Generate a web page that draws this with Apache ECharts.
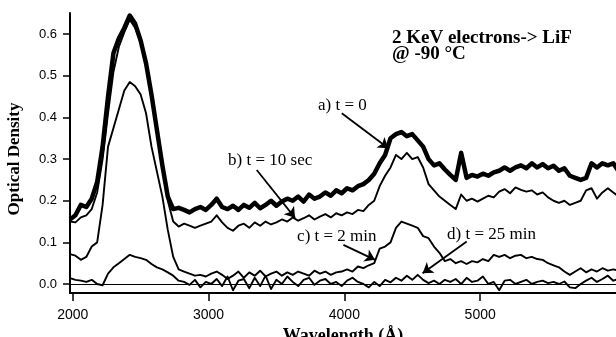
<!DOCTYPE html>
<html>
<head>
<meta charset="utf-8">
<title>Optical density, 2 KeV electrons on LiF</title>
<script src="https://cdn.jsdelivr.net/npm/echarts@6/dist/echarts.min.js"></script>
<style>
    html, body { margin: 0; padding: 0; background: #fff; }
    #chart { width: 616px; height: 337px; }
</style>
</head>
<body>
<div id="chart"></div>
<script>
// Wavelength grid (Å)
const wavelength = [
    1980, 2020, 2060, 2100, 2140, 2180, 2220, 2260, 2300, 2340, 2380, 2420, 2460, 2500, 2540, 2580, 2620, 2660, 2700, 2740,
    2780, 2820, 2860, 2900, 2940, 2980, 3020, 3060, 3100, 3140, 3180, 3220, 3260, 3300, 3340, 3380, 3420, 3460, 3500, 3540,
    3580, 3620, 3660, 3700, 3740, 3780, 3820, 3860, 3900, 3940, 3980, 4020, 4060, 4100, 4140, 4180, 4220, 4260, 4300, 4340,
    4380, 4420, 4460, 4500, 4540, 4580, 4620, 4660, 4700, 4740, 4780, 4820, 4860, 4900, 4940, 4980, 5020, 5060, 5100, 5140,
    5180, 5220, 5260, 5300, 5340, 5380, 5420, 5460, 5500, 5540, 5580, 5620, 5660, 5700, 5740, 5780, 5820, 5860, 5900, 5940,
    5980, 6020
];

// a) t = 0
const odT0 = [
    0.155, 0.165, 0.19, 0.185, 0.205, 0.245, 0.33, 0.45, 0.555, 0.59, 0.615, 0.645, 0.625, 0.585, 0.53, 0.455, 0.37, 0.285, 0.21, 0.18,
    0.183, 0.178, 0.172, 0.18, 0.185, 0.178, 0.19, 0.205, 0.185, 0.18, 0.188, 0.178, 0.19, 0.183, 0.195, 0.182, 0.19, 0.2, 0.188, 0.198,
    0.205, 0.2, 0.21, 0.198, 0.215, 0.205, 0.21, 0.22, 0.212, 0.225, 0.218, 0.23, 0.225, 0.235, 0.24, 0.25, 0.265, 0.29, 0.31, 0.35,
    0.36, 0.365, 0.355, 0.36, 0.345, 0.33, 0.3, 0.285, 0.29, 0.275, 0.262, 0.25, 0.315, 0.255, 0.262, 0.258, 0.265, 0.26, 0.268, 0.272,
    0.28, 0.272, 0.28, 0.285, 0.278, 0.29, 0.28, 0.288, 0.278, 0.284, 0.272, 0.278, 0.26, 0.255, 0.25, 0.255, 0.29, 0.28, 0.29, 0.285,
    0.29, 0.27
];

// b) t = 10 sec
const odT10s = [
    0.15, 0.148, 0.16, 0.165, 0.18, 0.22, 0.3, 0.41, 0.51, 0.57, 0.605, 0.635, 0.615, 0.58, 0.525, 0.45, 0.365, 0.28, 0.2, 0.15,
    0.138, 0.145, 0.14, 0.135, 0.14, 0.145, 0.15, 0.165, 0.148, 0.135, 0.128, 0.14, 0.145, 0.135, 0.148, 0.14, 0.15, 0.143, 0.148, 0.155,
    0.15, 0.16, 0.152, 0.158, 0.165, 0.155, 0.162, 0.168, 0.16, 0.17, 0.165, 0.172, 0.168, 0.178, 0.175, 0.19, 0.2, 0.235, 0.26, 0.28,
    0.31, 0.3, 0.315, 0.3, 0.305, 0.28, 0.24, 0.225, 0.21, 0.2, 0.19, 0.18, 0.215, 0.2, 0.205, 0.198, 0.205, 0.212, 0.208, 0.222,
    0.228, 0.218, 0.232, 0.226, 0.222, 0.225, 0.215, 0.22, 0.208, 0.2, 0.195, 0.2, 0.19, 0.195, 0.2, 0.225, 0.23, 0.205, 0.22, 0.23,
    0.22, 0.21
];

// c) t = 2 min
const odT2m = [
    0.072, 0.068, 0.058, 0.065, 0.09, 0.1, 0.19, 0.33, 0.375, 0.42, 0.465, 0.485, 0.475, 0.455, 0.41, 0.33, 0.27, 0.21, 0.13, 0.065,
    0.035, 0.03, 0.025, 0.02, 0.022, 0.018, 0.025, 0.03, 0.022, 0.012, 0.02, 0.03, 0.015, 0.028, 0.02, 0.032, 0.018, 0.025, 0.03, 0.02,
    0.028, 0.022, 0.03, 0.025, 0.02, 0.032, 0.025, 0.03, 0.022, 0.028, 0.03, 0.035, 0.03, 0.042, 0.038, 0.045, 0.05, 0.085, 0.09, 0.1,
    0.135, 0.15, 0.145, 0.14, 0.135, 0.115, 0.11, 0.09, 0.075, 0.055, 0.06, 0.05, 0.055, 0.048, 0.055, 0.052, 0.06, 0.055, 0.07, 0.065,
    0.07, 0.062, 0.068, 0.07, 0.062, 0.065, 0.06, 0.058, 0.05, 0.045, 0.04, 0.03, 0.022, 0.03, 0.038, 0.028, 0.035, 0.03, 0.038, 0.032,
    0.035, 0.032
];

// d) t = 25 min
const odT25m = [
    0.014, 0.01, 0.008, 0.005, 0.01, 0.0, -0.003, 0.025, 0.04, 0.05, 0.06, 0.07, 0.065, 0.062, 0.058, 0.048, 0.04, 0.035, 0.028, 0.02,
    0.008, 0.005, -0.002, 0.01, -0.008, 0.005, 0.0, 0.012, -0.005, 0.018, -0.015, 0.008, 0.012, -0.01, 0.015, -0.005, 0.02, -0.012, 0.01, 0.0,
    0.018, 0.005, -0.005, 0.01, 0.015, -0.002, 0.008, 0.012, 0.0, 0.005, -0.005, 0.008, 0.015, 0.005, 0.0, -0.008, 0.005, -0.005, 0.01, 0.004,
    0.015, 0.008, 0.02, 0.01, 0.022, 0.01, 0.002, 0.008, 0.0, 0.01, 0.005, 0.012, 0.0, 0.015, 0.005, 0.008, 0.018, 0.0, 0.005, -0.015,
    0.008, 0.01, 0.0, 0.005, 0.01, 0.0, 0.005, 0.008, 0.002, 0.005, 0.0, 0.006, -0.008, -0.01, 0.0, 0.008, 0.015, 0.005, 0.012, 0.02,
    0.008, 0.012
];

const xTicks = [2000, 3000, 4000, 5000];
const yTicks = [0, 0.1, 0.2, 0.3, 0.4, 0.5, 0.6];

// Curve labels [wavelength, OD] of text left-middle, arrows from -> to in data units
const labelTexts = ['a) t = 0', 'b) t = 10 sec', 'c) t = 2 min', 'd) t = 25 min'];
const labelPos = [[3806, 0.429], [3144, 0.296], [3652, 0.113], [4756, 0.12]];
const arrowFrom = [[3981, 0.41], [3355, 0.274], [3993, 0.094], [4901, 0.102]];
const arrowTo = [[4324, 0.326], [3637, 0.159], [4226, 0.058], [4576, 0.026]];

function pairs(ys) {
    return wavelength.map((x, i) => [x, ys[i]]);
}

function curve(name, ys, width) {
    return {
        name: name,
        type: 'line',
        data: pairs(ys),
        showSymbol: false,
        symbol: 'none',
        smooth: false,
        silent: true,
        lineStyle: { color: '#000', width: width, join: 'round' }
    };
}

const chart = echarts.init(document.getElementById('chart'));

const sD = curve('d) t = 25 min', odT25m, 1.9);
sD.markPoint = {
    symbol: 'circle',
    symbolSize: 0,
    silent: true,
    label: {
        show: true,
        position: 'right',
        distance: 0,
        color: '#000',
        fontFamily: 'Liberation Serif',
        fontSize: 17,
        formatter: p => p.name
    },
    data: labelTexts.map((t, i) => ({ name: t, coord: labelPos[i] }))
};
sD.markLine = {
    silent: true,
    symbol: ['none', 'arrow'],
    symbolSize: 10,
    label: { show: false },
    lineStyle: { color: '#000', width: 1.8, type: 'solid' },
    data: arrowFrom.map((f, i) => [{ coord: f }, { coord: arrowTo[i] }])
};

const sC = curve('c) t = 2 min', odT2m, 1.9);
// zero baseline
sC.markLine = {
    silent: true,
    symbol: 'none',
    label: { show: false },
    lineStyle: { color: '#000', width: 1.2, type: 'solid' },
    data: [{ yAxis: 0 }]
};

const option = {
    animation: false,
    backgroundColor: '#fff',
    title: {
        text: '2 KeV electrons-> LiF\n@ -90 °C',
        left: 392,
        top: 30,
        padding: 0,
        textStyle: {
            fontFamily: 'Liberation Serif',
            fontWeight: 'bold',
            fontSize: 19,
            lineHeight: 16,
            color: '#000'
        }
    },
    grid: { left: 70, right: 0, top: 13, bottom: 44, containLabel: false, outerBoundsMode: 'none' },
    xAxis: {
        type: 'value',
        min: 1980,
        max: 6000,
        name: 'Wavelength (Å)',
        nameLocation: 'middle',
        nameGap: 26,
        nameTextStyle: { fontFamily: 'Liberation Serif', fontWeight: 'bold', fontSize: 18, color: '#000' },
        axisLine: { show: true, onZero: false, lineStyle: { color: '#000', width: 2 } },
        axisTick: { show: true, customValues: xTicks, length: 8, lineStyle: { color: '#000', width: 1.5 } },
        axisLabel: {
            customValues: xTicks,
            margin: 15,
            color: '#000',
            fontFamily: 'Liberation Sans',
            fontSize: 14,
            formatter: v => String(v)
        },
        splitLine: { show: false }
    },
    yAxis: {
        type: 'value',
        min: -0.0216,
        max: 0.651,
        name: 'Optical Density',
        nameLocation: 'middle',
        nameGap: 47,
        nameTextStyle: {
            fontFamily: 'Liberation Serif',
            fontWeight: 'bold',
            fontSize: 17,
            color: '#000',
            padding: [0, 12, 0, 0]
        },
        axisLine: { show: true, onZero: false, lineStyle: { color: '#000', width: 2 } },
        axisTick: { show: true, customValues: yTicks, length: 7, lineStyle: { color: '#000', width: 1.5 } },
        axisLabel: {
            customValues: yTicks,
            margin: 13,
            color: '#000',
            fontFamily: 'Liberation Sans',
            fontSize: 13,
            formatter: v => v.toFixed(1)
        },
        splitLine: { show: false }
    },
    series: [
        sD,
        sC,
        curve('b) t = 10 sec', odT10s, 1.9),
        curve('a) t = 0', odT0, 4.5)
    ]
};

chart.setOption(option);
</script>
</body>
</html>
